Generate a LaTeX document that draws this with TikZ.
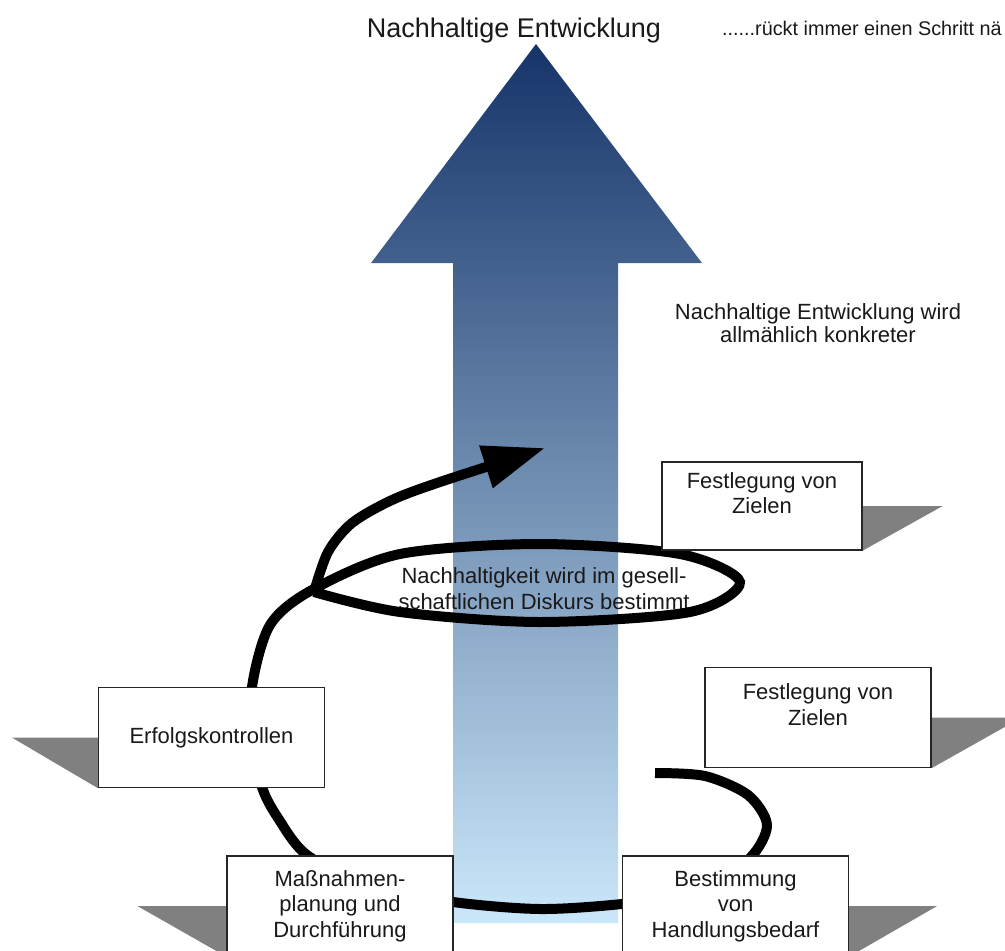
\documentclass[tikz,border=0pt]{standalone}
\usepackage{fontspec}
\setmainfont{Liberation Sans}
\usetikzlibrary{arrows.meta,backgrounds}
\definecolor{arrowtop}{RGB}{22,52,105}
\definecolor{arrowmiddle}{RGB}{130,160,195}
\definecolor{arrowbottom}{RGB}{202,231,250}
\definecolor{plate}{RGB}{128,128,128}

\begin{document}
\begin{tikzpicture}[x=1pt,y=-1pt]
	\tikzstyle{box}=[rectangle,draw=black!85,line width=1.3pt,fill=white,minimum width=226pt,minimum height=100pt,align=center,inner sep=0pt,text=black!90,font=\fontsize{22}{25.5}\selectfont]
	\tikzstyle{plaintext}=[inner sep=0pt,text=black!90]
	\tikzstyle{spiral}=[line width=10pt,black]
	\useasboundingbox (0,0) rectangle (1005,951);
	\shade[top color=arrowtop,middle color=arrowmiddle,bottom color=arrowbottom] (453,923) -- (453,263) -- (371,263) -- (536,44) -- (702,263) -- (618,263) -- (618,923) -- cycle;
	\node[plaintext,font=\fontsize{27}{32}\selectfont,anchor=base] (titel) at (514,37) {Nachhaltige Entwicklung};
	\node[plaintext,font=\fontsize{19.8}{23}\selectfont,anchor=base west] (naeher) at (722,35) {......rückt immer einen Schritt nä};
	\node[plaintext,align=center,font=\fontsize{22}{23.5}\selectfont] (konkret) at (818,323) {Nachhaltige Entwicklung wird\\allmählich konkreter};
	\node[plaintext,align=center,font=\fontsize{22}{26}\selectfont] (diskurs) at (544,589) {Nachhaltigkeit wird im gesell-\\schaftlichen Diskurs bestimmt};
	\draw[spiral] plot[smooth] coordinates {(655,773) (705,776) (748,795) (767,825) (750,858) (700,893) (622,904) (540,909) (453,902) (370,886) (307,855) (278,818) (262,787) (254,740) (252,687) (270,625) (312,590) (400,554) (540,544) (680,554) (740,582) (690,612) (540,622) (400,612) (314,592)};
	\draw[spiral,-{Triangle[length=62pt,width=42pt]}] plot[smooth] coordinates {(314,592) (328,552) (352,523) (392,500) (440,482) (545,448)};
	\node[box,minimum width=200pt,minimum height=88pt] (ziele1) at (762,506) {Festlegung von\\Zielen\\~};
	\node[box] (ziele2) at (818,717.5) {Festlegung von\\Zielen\\~};
	\node[box] (erfolg) at (211.5,737.5) {Erfolgskontrollen};
	\node[box] (massnahmen) at (340,906) {Maßnahmen-\\planung und\\Durchführung};
	\node[box] (bedarf) at (735.5,906) {Bestimmung\\von\\Handlungsbedarf};
	\begin{scope}[on background layer]
		\fill[plate] (ziele1.east) -- ++(80,0) -- (ziele1.south east) -- cycle;
		\fill[plate] (ziele2.east) -- ++(90,0) -- (ziele2.south east) -- cycle;
		\fill[plate] (bedarf.east) -- ++(88,0) -- (bedarf.south east) -- cycle;
		\fill[plate] (erfolg.west) -- ++(-86,0) -- (erfolg.south west) -- cycle;
		\fill[plate] (massnahmen.west) -- ++(-89,0) -- (massnahmen.south west) -- cycle;
	\end{scope}
\end{tikzpicture}
\end{document}
